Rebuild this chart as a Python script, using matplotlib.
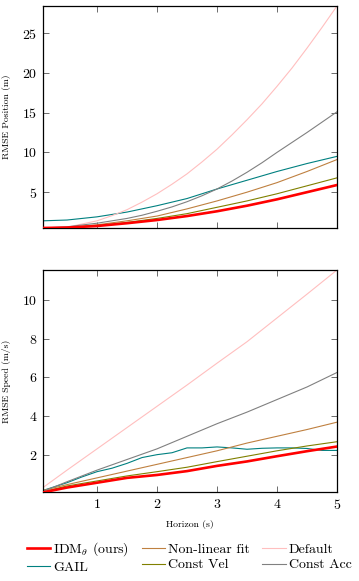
import numpy as np
import matplotlib.pyplot as plt

plt.rcParams["font.family"] = "serif"
plt.rcParams["font.serif"] = ["cmr10", "DejaVu Serif"]
plt.rcParams["mathtext.fontset"] = "cm"
plt.rcParams["axes.formatter.use_mathtext"] = True

# horizon samples (s)
t_pos = [0.1, 0.5, 1.0, 1.5, 2.0, 2.5, 3.0, 3.5, 4.0, 4.5, 5.0]

# RMSE position (m)
pos_idm = [0.5, 0.55, 0.75, 1.1, 1.5, 2.0, 2.6, 3.3, 4.1, 5.0, 5.9]
pos_gail = [1.4, 1.5, 1.9, 2.5, 3.3, 4.2, 5.4, 6.5, 7.6, 8.6, 9.5]
pos_nonlin = [0.5, 0.55, 0.9, 1.4, 2.0, 2.9, 3.9, 5.0, 6.2, 7.6, 9.1]
pos_constvel = [0.5, 0.55, 0.8, 1.2, 1.7, 2.3, 3.1, 3.9, 4.8, 5.8, 6.8]

t_pos_fine = [0.1, 0.5, 1.0, 1.25, 1.5, 1.75, 2.0, 2.25, 2.5, 2.75, 3.0, 3.25,
              3.5, 3.75, 4.0, 4.25, 4.5, 4.75, 5.0]
pos_default = [0.5, 0.6, 1.4, 2.05, 2.8, 3.75, 4.8, 6.0, 7.3, 8.8, 10.4, 12.2,
               14.1, 16.1, 18.3, 20.6, 23.1, 25.7, 28.4]
pos_constacc = [0.5, 0.65, 1.1, 1.4, 1.7, 2.1, 2.6, 3.15, 3.8, 4.55, 5.4, 6.4,
                7.5, 8.7, 10.0, 11.25, 12.5, 13.8, 15.1]

# RMSE speed (m/s)
t_spd = [0.1, 0.5, 1.0, 1.5, 2.0, 2.5, 3.0, 3.5, 4.0, 4.5, 5.0]
spd_idm = [0.05, 0.3, 0.55, 0.8, 0.95, 1.15, 1.42, 1.65, 1.92, 2.18, 2.42]
spd_nonlin = [0.15, 0.45, 0.8, 1.15, 1.5, 1.85, 2.2, 2.6, 2.95, 3.3, 3.68]
spd_constvel = [0.08, 0.38, 0.64, 0.9, 1.12, 1.35, 1.64, 1.92, 2.2, 2.45, 2.67]
spd_default = [0.3, 1.2, 2.3, 3.4, 4.5, 5.6, 6.73, 7.84, 9.07, 10.3, 11.55]
spd_constacc = [0.1, 0.6, 1.2, 1.75, 2.3, 2.95, 3.6, 4.2, 4.85, 5.5, 6.25]

t_gail = [0.1, 0.3, 0.5, 0.75, 1.0, 1.25, 1.5, 1.75, 2.0, 2.25, 2.5, 2.75,
          3.0, 3.25, 3.5, 3.75, 4.0, 4.25, 4.5, 4.75, 5.0]
spd_gail = [0.15, 0.35, 0.55, 0.85, 1.12, 1.3, 1.55, 1.85, 2.0, 2.1, 2.35, 2.35,
            2.4, 2.35, 2.28, 2.33, 2.35, 2.35, 2.32, 2.22, 2.22]

labels = [r"IDM$_\theta$ (ours)", "GAIL", "Non-linear fit", "Const Vel",
          "Default", "Const Acc"]
colors = ["#ff0000", "#008080", "#bf8040", "#808000", "#ffbfbf", "#808080"]
widths = [1.9, 0.8, 0.8, 0.8, 0.8, 0.8]

fig = plt.figure(figsize=(3.59, 5.81), dpi=100)
ax_pos = fig.add_axes([0.1198, 0.6076, 0.8189, 0.3821])
ax_spd = fig.add_axes([0.1198, 0.1532, 0.8189, 0.3821])

pos_all = [pos_idm, pos_gail, pos_nonlin, pos_constvel, pos_default, pos_constacc]
spd_all = [spd_idm, spd_gail, spd_nonlin, spd_constvel, spd_default, spd_constacc]

handles = []
for i in range(6):
    z = 3 if i == 0 else 2
    tp = t_pos_fine if i >= 4 else t_pos
    h, = ax_pos.plot(tp, pos_all[i], color=colors[i], lw=widths[i], zorder=z)
    handles.append(h)
    ts = t_gail if i == 1 else t_spd
    ax_spd.plot(ts, spd_all[i], color=colors[i], lw=widths[i], zorder=z)

for ax in (ax_pos, ax_spd):
    ax.set_xlim(0.1, 5)
    ax.set_xticks([1, 2, 3, 4, 5])
    ax.tick_params(direction="in", length=4, width=0.6, color="#555555",
                   top=True, right=True, labelsize=10, pad=4)
    for s in ax.spines.values():
        s.set_linewidth(0.9)

ax_pos.set_ylim(0.5, 28.4)
ax_pos.set_yticks([5, 10, 15, 20, 25])
ax_pos.tick_params(labelbottom=False)
ax_pos.set_ylabel("RMSE Position (m)", fontsize=7, labelpad=8)

ax_spd.set_ylim(0.07, 11.55)
ax_spd.set_yticks([2, 4, 6, 8, 10])
ax_spd.set_ylabel("RMSE Speed (m/s)", fontsize=7, labelpad=8)
ax_spd.set_xlabel("Horizon (s)", fontsize=7, labelpad=6)

fig.legend(handles, labels, ncol=3, loc="center", bbox_to_anchor=(0.527, 0.041),
           frameon=False, fontsize=10, handlelength=1.7, handletextpad=0.2,
           columnspacing=0.9, labelspacing=0.2, borderaxespad=0)

fig.savefig("out.png", dpi=100)
